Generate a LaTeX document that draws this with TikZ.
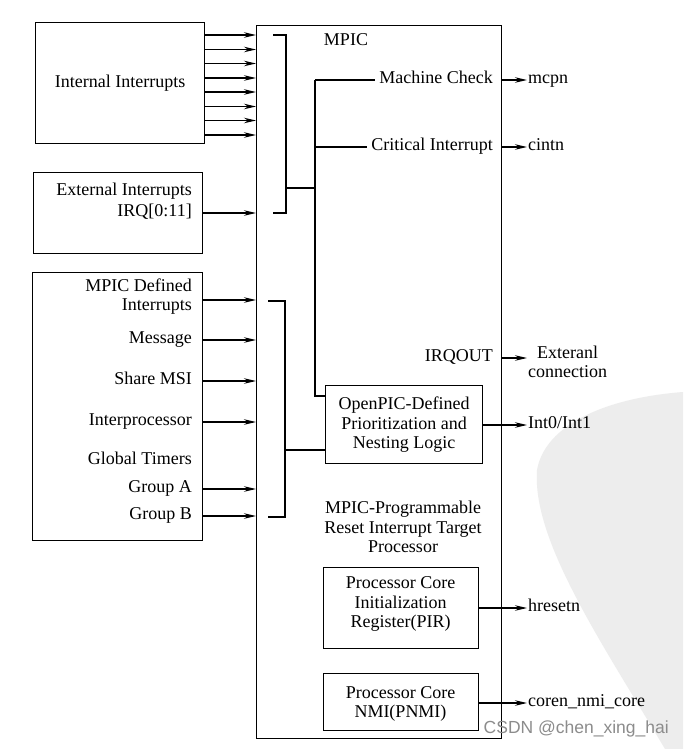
\documentclass[tikz,border=0pt]{standalone}
\usepackage{fontspec}
\setmainfont{Liberation Serif}
\newfontfamily\wmfont{Liberation Sans}
\usetikzlibrary{arrows.meta,calc}
\begin{document}
\begin{tikzpicture}[x=1pt,y=-1pt,
  every node/.style={font=\fontsize{18}{19.5}\selectfont, inner sep=1pt},
  box/.style={draw, line width=1.3pt, anchor=north west, inner sep=0pt},
  wire/.style={line width=1.3pt},
  arr/.style={line width=1.3pt, -{Stealth[length=12pt,width=5.5pt]}},
  lbl/.style={text height=0.66em, text depth=0pt}
]
\fill[white] (0,0) rectangle (683,749);
\useasboundingbox (0,0) rectangle (683,749);
% faint background watermark
\fill[black!7] (683,392) .. controls (605,398) and (545,425) .. (537,470)
  .. controls (532,540) and (600,640) .. (665,749) -- (683,749) -- cycle;

% main MPIC box
\node[box, minimum width=245pt, minimum height=713pt] (mpic) at (256,25) {};
\node (mpict) at (346,40) {MPIC};

% Internal interrupts
\node[box, minimum width=169pt, minimum height=121pt] (ii) at (35,22) {};
\node (iit) at (ii.center) {Internal Interrupts};
\foreach \y in {35,49.5,63.5,78,92,106.5,120.5,135}
  \draw[arr] (ii.east |- 0,\y) -- (mpic.west |- 0,\y);

% External interrupts
\node[box, minimum width=169pt, minimum height=81pt] (ext) at (33,172) {};
\node[lbl, anchor=east] (extt) at (193,192) {External Interrupts};
\node[lbl, anchor=east] (irq) at (193,213) {IRQ[0:11]};
\draw[arr] (ext.east |- irq) -- (mpic.west |- irq);

% MPIC defined interrupts
\node[box, minimum width=170pt, minimum height=268pt] (mdi) at (32,272) {};
\node[lbl, anchor=east] (mdi1) at (193,288) {MPIC Defined};
\node[lbl, anchor=east] (mdi2) at (193,307) {Interrupts};
\node[lbl, anchor=east] (msg) at (193,340) {Message};
\node[lbl, anchor=east] (msi) at (193,381) {Share MSI};
\node[lbl, anchor=east] (ipr) at (193,422) {Interprocessor};
\node[lbl, anchor=east] (gt) at (193,461) {Global Timers};
\node[lbl, anchor=east] (ga) at (193,489) {Group A};
\node[lbl, anchor=east] (gb) at (193,516) {Group B};
\draw[arr] (mdi.east |- 0,300) -- (mpic.west |- 0,300);
\foreach \n in {msg,msi,ipr,ga,gb}
  \draw[arr] (mdi.east |- \n) -- (mpic.west |- \n);

% internal logic labels
\node[lbl, anchor=east, inner xsep=4pt] (mc) at (497,80) {Machine Check};
\node[lbl, anchor=east, inner xsep=4pt] (ci) at (497,147) {Critical Interrupt};
\node[lbl, anchor=east] (irqout) at (494,358) {IRQOUT};

% OpenPIC logic
\node[box, minimum width=157pt, minimum height=78pt] (opl) at (325,385) {};
\node[align=center] (oplt) at (opl.center) {OpenPIC-Defined\\Prioritization and\\Nesting Logic};

% brackets and bus
\coordinate (b1a) at (273,35);
\coordinate (b1b) at (286,35);
\coordinate (b1c) at (286,213);
\coordinate (b1d) at (273,213);
\coordinate (b1j) at (286,188);
\coordinate (bus) at (315,80);
\draw[wire] (b1a) -- (b1b) -- (b1c) -- (b1d);
\draw[wire] (b1j) -- (bus |- b1j);
\draw[wire] (bus) -- (mc.west);
\draw[wire] (bus |- ci) -- (ci.west);
\draw[wire] (bus) -- (bus |- 0,396) -- (opl.west |- 0,396);

\coordinate (b2a) at (268,301);
\coordinate (b2b) at (285,301);
\coordinate (b2c) at (285,517);
\coordinate (b2d) at (268,517);
\coordinate (b2j) at (285,450);
\draw[wire] (b2a) -- (b2b) -- (b2c) -- (b2d);
\draw[wire] (b2j) -- (opl.west |- b2j);

% reset target
\node[align=center] (mpt) at (403,527) {MPIC-Programmable\\Reset Interrupt Target\\Processor};
\node[box, minimum width=155pt, minimum height=81pt] (pir) at (323,567) {};
\node[align=center] (pirt) at (400.5,604) {Processor Core\\Initialization\\Register(PIR)};
\node[box, minimum width=155pt, minimum height=57pt] (pnmi) at (323,673) {};
\node[align=center] (pnmit) at (400.5,704) {Processor Core\\NMI(PNMI)};

% outputs
\node[lbl, anchor=west] (mcpn) at (527,80) {mcpn};
\node[lbl, anchor=west] (cintn) at (527,147) {cintn};
\node[align=center, anchor=west] (econ) at (527,362) {Exteranl\\connection};
\node[lbl, anchor=west] (int) at (527,425) {Int0/Int1};
\node[lbl, anchor=west] (hres) at (527,608) {hresetn};
\node[lbl, anchor=west] (coren) at (527,703) {coren\_nmi\_core};
\draw[arr] (mpic.east |- mcpn) -- (mcpn.west);
\draw[arr] (mpic.east |- cintn) -- (cintn.west);
\draw[arr] (mpic.east |- irqout) -- (econ.west |- irqout);
\draw[arr] (opl.east |- int) -- (int.west);
\draw[arr] (pir.east |- hres) -- (hres.west);
\draw[arr] (pnmi.east |- coren) -- (coren.west);

% site watermark
\node[anchor=east, font=\wmfont\fontsize{17.5}{17.5}\selectfont, text=black!45] (wm) at (670,729) {CSDN @chen\_xing\_hai};
\end{tikzpicture}
\end{document}
